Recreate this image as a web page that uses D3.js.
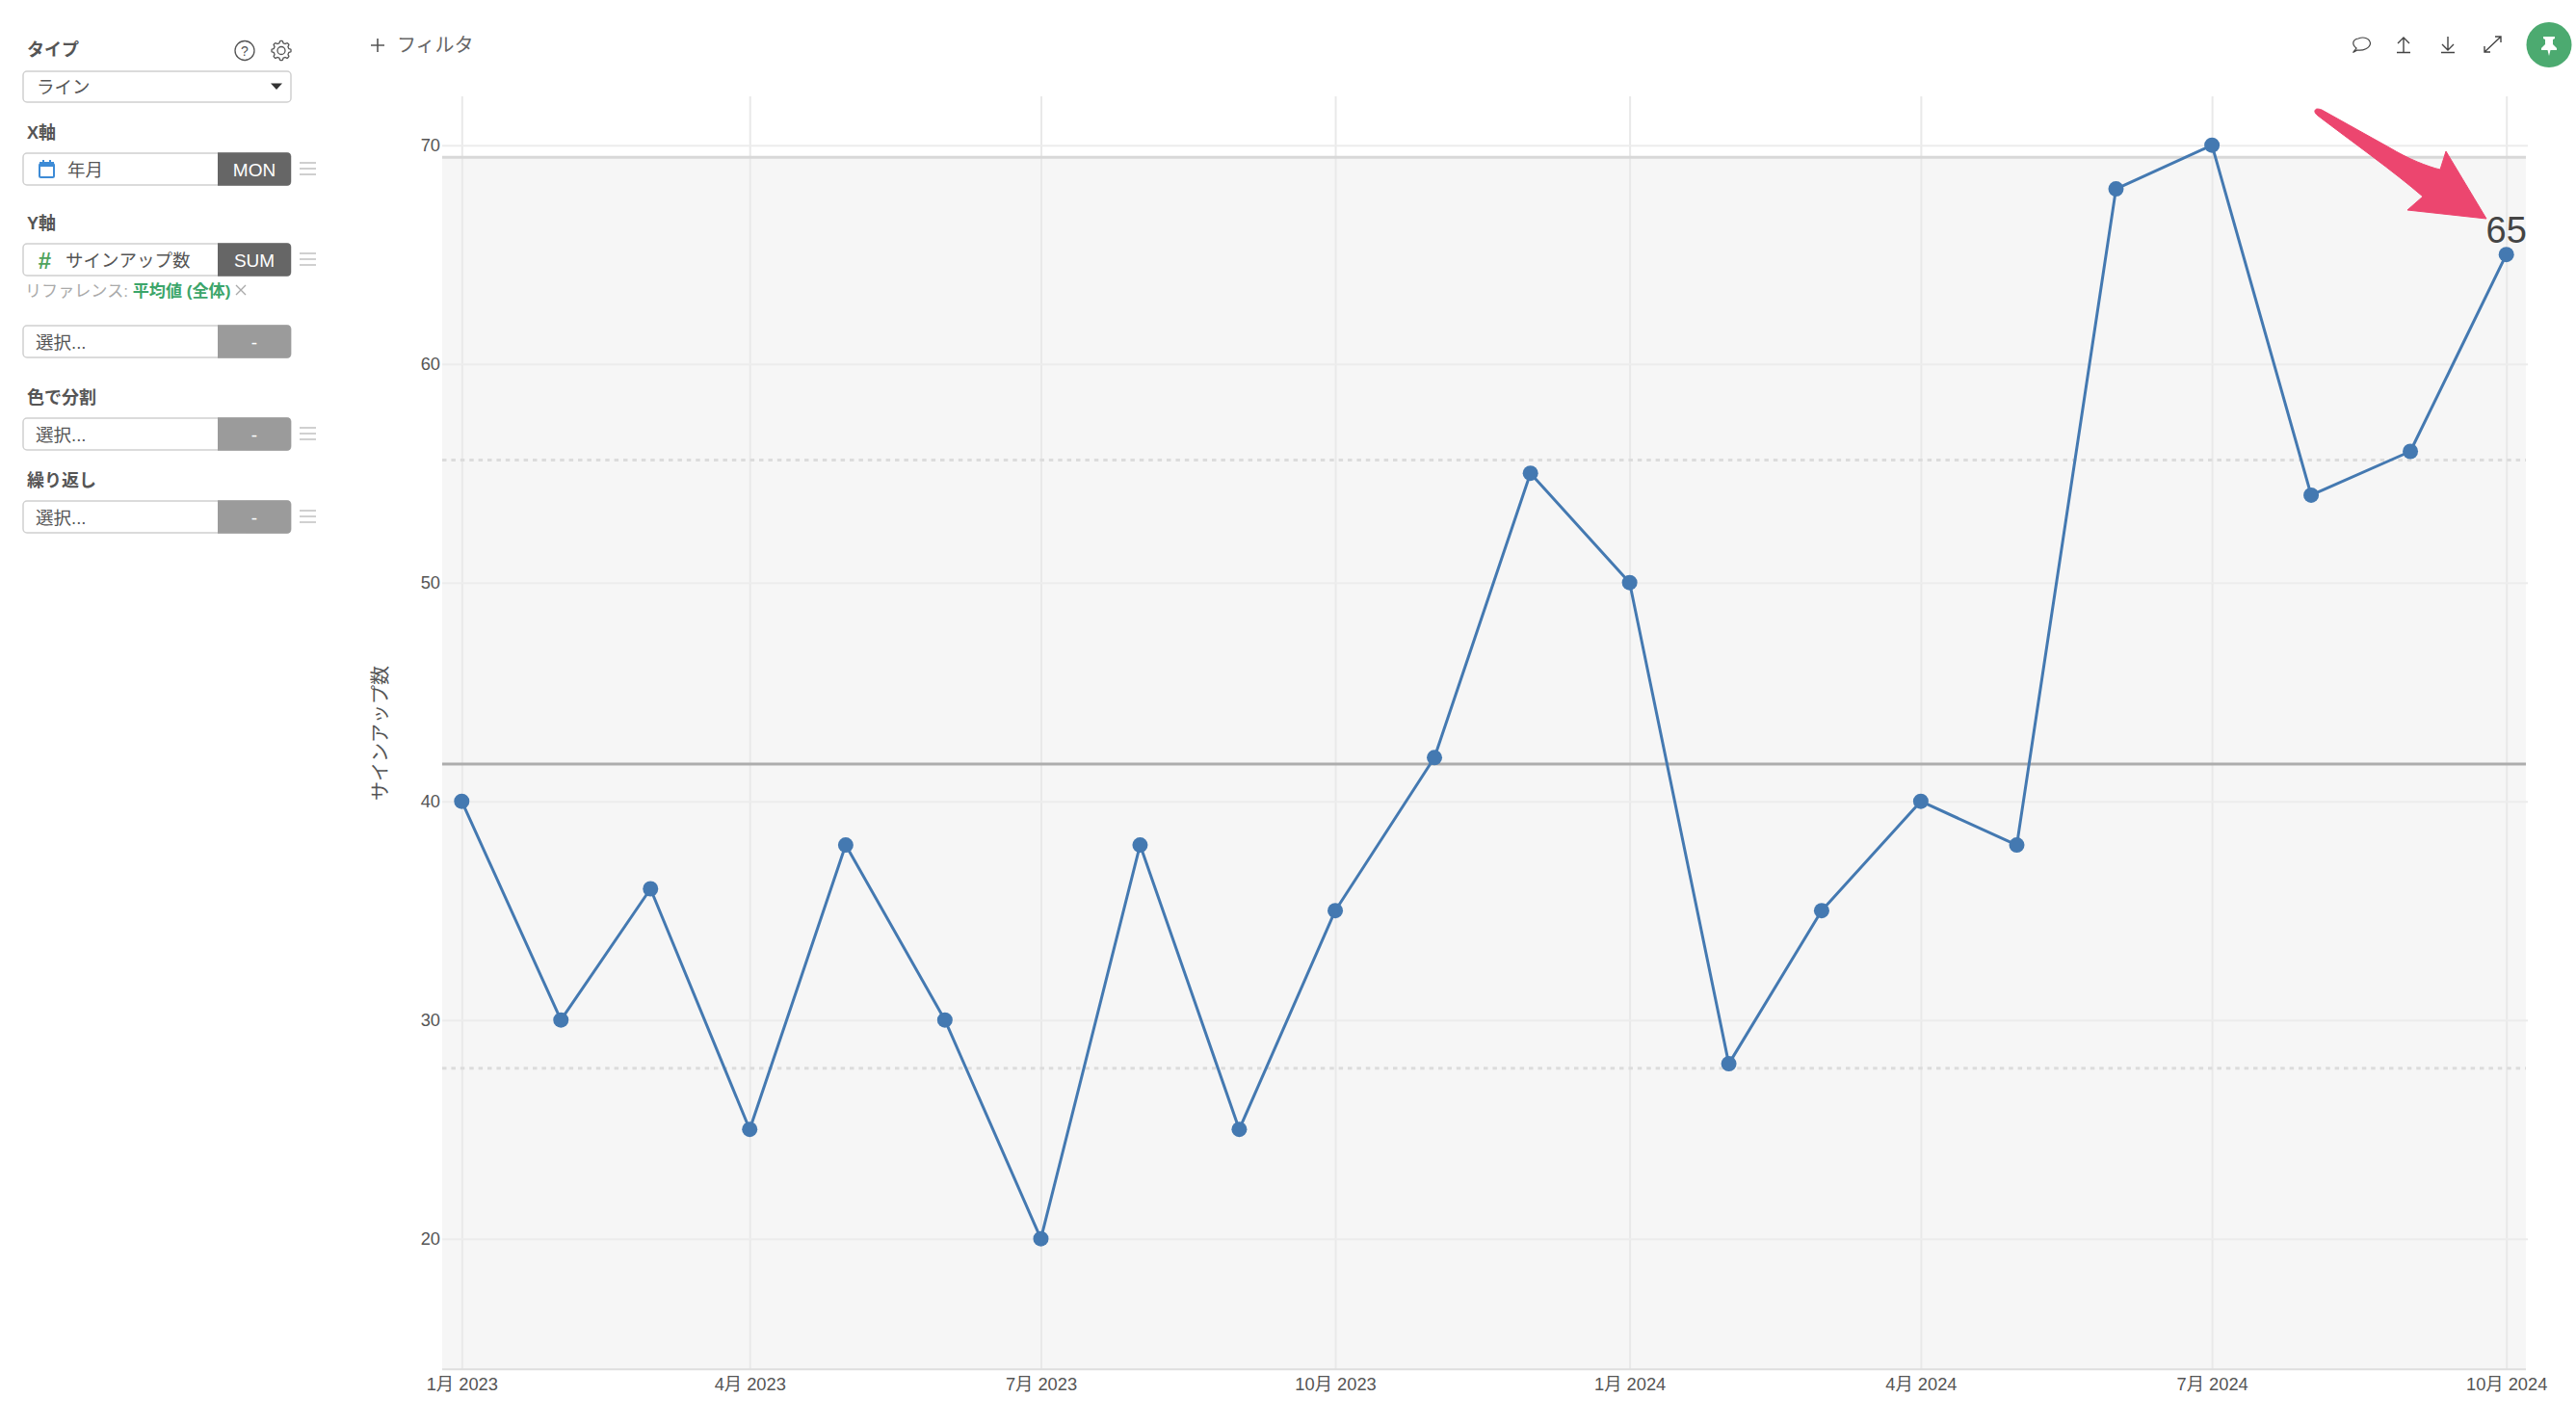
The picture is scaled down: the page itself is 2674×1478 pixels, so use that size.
<!DOCTYPE html>
<html lang="ja">
<head>
<meta charset="utf-8">
<title>サインアップ数</title>
<script src="https://cdn.jsdelivr.net/npm/d3@7/dist/d3.min.js"></script>
<style>
html,body{margin:0;padding:0;background:#fff;overflow:hidden}
svg{display:block}
text{font-family:"Liberation Sans","Noto Sans CJK JP",sans-serif}
.axis path{display:none}
.axis text{font-size:18.3px;fill:#555}
</style>
</head>
<body>
<svg id="c" width="2674" height="1478"></svg>
<script>
const months = ["2023-01","2023-02","2023-03","2023-04","2023-05","2023-06","2023-07","2023-08","2023-09","2023-10","2023-11","2023-12","2024-01","2024-02","2024-03","2024-04","2024-05","2024-06","2024-07","2024-08","2024-09","2024-10"];
const signups = [40,30,36,25,38,30,20,38,25,35,42,55,50,28,35,40,38,68,70,54,56,65];
const yTicks = [20,30,40,50,60,70];
const xTickMonths = ["2023-01","2023-04","2023-07","2023-10","2024-01","2024-04","2024-07","2024-10"];
const refMean = 41.7;
const refSigmaLines = [27.8,55.6];
const refBand = [14.03,69.45];
const yTitle = "サインアップ数";
const highlightLabel = "65";

const parse = d3.utcParse("%Y-%m");
const svg = d3.select("#c");

// scales
const x = d3.scaleUtc().domain([parse(months[0]),parse(months[months.length-1])]).range([479.3,2601.7]);
const y = d3.scaleLinear().domain([20,70]).range([1285.7,150.7]);
const plotL=459, plotR=2622, plotB=y(refBand[0]), gridTop=100, gridR=2624;

// band
svg.append("rect").attr("x",plotL).attr("width",plotR-plotL)
  .attr("y",y(refBand[1])).attr("height",y(refBand[0])-y(refBand[1])).attr("fill","#f6f6f6");

// axes with grids
const gx=svg.append("g").attr("class","axis").attr("transform",`translate(0,${plotB})`)
  .call(d3.axisBottom(x).tickValues(xTickMonths.map(parse)).tickSize(-(plotB-gridTop)).tickPadding(6)
    .tickFormat(d=>`${d.getUTCMonth()+1}月 ${d.getUTCFullYear()}`));
gx.selectAll("line").attr("stroke","#e9e9e9").attr("stroke-width",2);
gx.selectAll("text").attr("y",9).attr("dy","0.71em");

const gy=svg.append("g").attr("class","axis").attr("transform",`translate(${plotL},0)`)
  .call(d3.axisLeft(y).tickValues(yTicks).tickSize(-(gridR-plotL)).tickPadding(2));
gy.selectAll("line").attr("stroke","#ececec").attr("stroke-width",2);

// reference lines
svg.append("line").attr("x1",plotL).attr("x2",plotR).attr("y1",plotB).attr("y2",plotB).attr("stroke","#dedede").attr("stroke-width",2);
svg.append("line").attr("x1",plotL).attr("x2",plotR).attr("y1",y(refBand[1])).attr("y2",y(refBand[1])).attr("stroke","#d8d8d8").attr("stroke-width",3);
svg.selectAll(".sig").data(refSigmaLines).join("line").attr("class","sig")
  .attr("x1",plotL).attr("x2",plotR).attr("y1",d=>y(d)).attr("y2",d=>y(d))
  .attr("stroke","#dcdcdc").attr("stroke-width",3).attr("stroke-dasharray","4.5 4.9");
svg.append("line").attr("x1",plotL).attr("x2",plotR).attr("y1",y(refMean)).attr("y2",y(refMean)).attr("stroke","#adadad").attr("stroke-width",3);

// y title
svg.append("text").attr("transform","translate(395,761) rotate(-90)").attr("text-anchor","middle")
  .attr("dominant-baseline","central").attr("font-size",20).attr("fill","#555").text(yTitle);

// line + points
const rows = months.map((m,i)=>({d:parse(m),v:signups[i]}));
svg.append("path").datum(rows).attr("fill","none").attr("stroke","#4479b1").attr("stroke-width",3)
  .attr("stroke-linejoin","round")
  .attr("d",d3.line().x(d=>x(d.d)).y(d=>y(d.v)));
svg.selectAll(".pt").data(rows).join("circle").attr("class","pt")
  .attr("cx",d=>x(d.d)).attr("cy",d=>y(d.v)).attr("r",8).attr("fill","#4479b1");

// highlighted label
const last = rows[rows.length-1];
svg.append("text").attr("x",x(last.d)).attr("y",y(last.v)-12).attr("text-anchor","middle")
  .attr("font-size",38).attr("fill","#444").text(highlightLabel);

// annotation arrow
svg.append("path").attr("fill","#ec466f").attr("stroke","#ec466f").attr("stroke-width",1).attr("stroke-linejoin","round")
  .attr("d","M2405,113 C2405,113 2408,113 2410,114 L2480,153 C2500,165 2520,173 2533,176 L2539,157 L2581,227 L2499,218 L2515,204 C2485,178 2440,146 2406,120 C2402,117 2402,114 2405,113 Z");

// ---------- sidebar UI ----------
const ui = svg.append("g");
const label=(t,x0,yc)=>ui.append("text").attr("x",x0).attr("y",yc).attr("dominant-baseline","central")
  .attr("font-size",18).attr("font-weight","700").attr("fill","#555").text(t);
const burger=(yc)=>[-6,0,6].forEach(o=>ui.append("line").attr("x1",311).attr("x2",328).attr("y1",yc+o).attr("y2",yc+o).attr("stroke","#c4c4c4").attr("stroke-width",1.6));
function field(top,text,tag,dark,textX){
  const h=33,l=24,r=302,sp=226;
  ui.append("rect").attr("x",l).attr("y",top).attr("width",r-l).attr("height",h).attr("rx",4).attr("fill","#fff").attr("stroke","#d0d0d0").attr("stroke-width",1.5);
  ui.append("path").attr("fill",dark?"#666":"#9b9b9b")
    .attr("d",`M${sp},${top-.75}H${r-4}a4,4 0 0 1 4,4V${top+h-3.25}a4,4 0 0 1 -4,4H${sp}Z`);
  ui.append("text").attr("x",textX).attr("y",top+h/2+1).attr("dominant-baseline","central").attr("font-size",18.5).attr("fill","#555").text(text);
  ui.append("text").attr("x",(sp+r)/2).attr("y",top+h/2+1).attr("dominant-baseline","central").attr("text-anchor","middle").attr("font-size",19).attr("fill","#fff").text(tag);
}
label("タイプ",28,52);
ui.append("rect").attr("x",24).attr("y",74).attr("width",278).attr("height",32).attr("rx",4).attr("fill","#fff").attr("stroke","#d0d0d0").attr("stroke-width",1.5);
ui.append("text").attr("x",38).attr("y",90.5).attr("dominant-baseline","central").attr("font-size",18.5).attr("fill","#555").text("ライン");
ui.append("path").attr("d","M281,86.5H293L287,93Z").attr("fill","#333");

// help + gear
ui.append("circle").attr("cx",254).attr("cy",52.5).attr("r",10).attr("fill","none").attr("stroke","#555").attr("stroke-width",1.3);
ui.append("text").attr("x",254).attr("y",53).attr("text-anchor","middle").attr("dominant-baseline","central").attr("font-size",14).attr("fill","#555").text("?");
const gearPts=d3.range(48).map(i=>{const a=i/48*2*Math.PI,k=(i%6);const r=(k===0||k===1||k===5)?10:8;return [292+r*Math.cos(a),52.5+r*Math.sin(a)];});
ui.append("path").attr("d",d3.line().curve(d3.curveCardinalClosed.tension(.5))(gearPts)).attr("fill","none").attr("stroke","#555").attr("stroke-width",1.3);
ui.append("circle").attr("cx",292).attr("cy",52.5).attr("r",4).attr("fill","none").attr("stroke","#555").attr("stroke-width",1.3);

label("X軸",28,138);
field(159,"年月","MON",true,70);
ui.append("rect").attr("x",41).attr("y",170).attr("width",15).attr("height",14).attr("rx",1.5).attr("fill","none").attr("stroke","#3d8bd6").attr("stroke-width",2);
ui.append("path").attr("d","M41,168H56V173H41Z M44,166h2v3h-2Z M51,166h2v3h-2Z").attr("fill","#3d8bd6");
burger(175);

label("Y軸",28,232);
field(253,"サインアップ数","SUM",true,68);
ui.append("text").attr("x",46.5).attr("y",270).attr("text-anchor","middle").attr("dominant-baseline","central").attr("font-size",24).attr("font-weight","700").attr("fill","#4fa35c").text("#");
burger(269);
const refText=ui.append("text").attr("x",26).attr("y",302).attr("dominant-baseline","central").attr("font-size",17.1).attr("fill","#aaa");
refText.append("tspan").text("リファレンス: ");
refText.append("tspan").attr("font-weight","700").attr("fill","#3ba56a").text("平均値 (全体)");
ui.append("path").attr("d","M245,296L255,306M255,296L245,306").attr("stroke","#aaa").attr("stroke-width",1.4).attr("fill","none");

field(338,"選択...","-",false,37);
label("色で分割",28,413);
field(434,"選択...","-",false,37);
burger(450);
label("繰り返し",28,499);
field(520,"選択...","-",false,37);
burger(536);

// filter
ui.append("path").attr("d","M392,40V54M385,47H399").attr("stroke","#555").attr("stroke-width",1.6).attr("fill","none");
ui.append("text").attr("x",412).attr("y",47).attr("dominant-baseline","central").attr("font-size",20).attr("fill","#666").text("フィルタ");

// toolbar icons
const ic="#444";
ui.append("path").attr("d","M2442.5,54.5 L2446,50 C2441,46 2442,41 2448,40 C2454,37.5 2460,40 2460.5,45 C2460,50 2453,53 2447,52 Z").attr("fill","none").attr("stroke",ic).attr("stroke-width",1.2);
ui.append("path").attr("d","M2495,54V39M2489,45L2495,39L2501,45M2488,54.5H2502").attr("fill","none").attr("stroke",ic).attr("stroke-width",1.4);
ui.append("path").attr("d","M2541,38V52M2535,46L2541,52L2547,46M2534,54.5H2548").attr("fill","none").attr("stroke",ic).attr("stroke-width",1.4);
ui.append("path").attr("d","M2579,54L2596,38M2590,38H2596V44M2579,48V54H2585").attr("fill","none").attr("stroke",ic).attr("stroke-width",1.4);
ui.append("circle").attr("cx",2646).attr("cy",46.5).attr("r",23.5).attr("fill","#4caa70");
ui.append("path").attr("d","M2640,38H2652V40L2650,41V46L2654,50V52H2647.5L2646,58L2644.5,52H2638V50L2642,46V41L2640,40Z").attr("fill","#fff");
</script>
</body>
</html>
